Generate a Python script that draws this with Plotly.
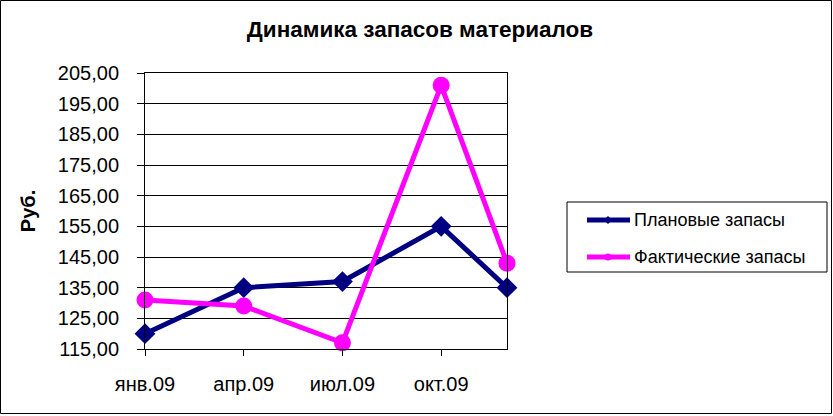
import plotly.graph_objects as go

months = ["2009-01", "2009-04", "2009-07", "2009-10", "2009-12"]
tick_months = ["2009-01", "2009-04", "2009-07", "2009-10"]
tick_labels = ["янв.09", "апр.09", "июл.09", "окт.09"]
plan = [120, 135, 137, 155, 135]
actual = [131, 129, 117, 201, 143]
y_ticks = [115, 125, 135, 145, 155, 165, 175, 185, 195, 205]
series_names = ["Плановые запасы", "Фактические запасы"]
series_colors = ["#000080", "#FF00FF"]
series_symbols = ["diamond", "circle"]

def midx(s):
    y, m = s.split("-")
    return (int(y) - 2009) * 12 + int(m) - 1

x = [midx(m) for m in months]
tx = [midx(m) for m in tick_months]

FONT = "Liberation Sans, Arial, sans-serif"

fig = go.Figure()
for vals, nm, col, sym, sz in zip([plan, actual], series_names, series_colors, series_symbols, [16, 17]):
    fig.add_trace(go.Scatter(
        x=x, y=vals, name=nm, mode="lines+markers",
        line=dict(color=col, width=5),
        marker=dict(symbol=sym, size=sz, color=col),
        cliponaxis=False, showlegend=False,
    ))

L, R, T, B = 145, 326, 73, 67
W, H = 833, 416
pw, ph = W - L - R, H - T - B

def px(xp):
    return (xp - L) / pw

def py(yp):
    return (H - B - yp) / ph

shapes = [
    dict(type="rect", xref="paper", yref="paper",
         x0=px(0.5), x1=px(831.5), y0=py(413.5), y1=py(0.5),
         line=dict(color="black", width=1), fillcolor="rgba(0,0,0,0)", layer="below"),
    dict(type="rect", xref="paper", yref="paper",
         x0=px(567), x1=px(827), y0=py(272), y1=py(202),
         line=dict(color="black", width=1), fillcolor="white"),
]
annotations = []
legend_rows = [220, 257]
for nm, col, sym, yy in zip(series_names, series_colors, series_symbols, legend_rows):
    shapes.append(dict(type="line", xref="paper", yref="paper",
                       x0=px(587), x1=px(630), y0=py(yy), y1=py(yy),
                       line=dict(color=col, width=5)))
    cx, cy = 608, yy
    if sym == "diamond":
        path = (f"M {px(cx-4)} {py(cy)} L {px(cx)} {py(cy-4)} L {px(cx+4)} {py(cy)} "
                f"L {px(cx)} {py(cy+4)} Z")
        shapes.append(dict(type="path", xref="paper", yref="paper", path=path,
                           fillcolor=col, line=dict(color=col, width=0)))
    else:
        shapes.append(dict(type="circle", xref="paper", yref="paper",
                           x0=px(cx-3.5), x1=px(cx+3.5), y0=py(cy+3.5), y1=py(cy-3.5),
                           fillcolor=col, line=dict(color=col, width=0)))
    annotations.append(dict(text=nm, xref="paper", yref="paper", x=px(632), y=py(yy),
                            xanchor="left", yanchor="middle", showarrow=False,
                            font=dict(size=18, family=FONT, color="black")))

fig.update_layout(
    width=W, height=H,
    margin=dict(l=L, r=R, t=T, b=B),
    paper_bgcolor="white", plot_bgcolor="white",
    font=dict(family=FONT, color="black"),
    title=dict(text="<b>Динамика запасов материалов</b>", x=px(420), xanchor="center",
               xref="paper", y=1 - 29 / H, yanchor="middle",
               font=dict(size=22.5, family=FONT, color="black")),
    showlegend=False,
    xaxis=dict(range=[0, 11], tickmode="array", tickvals=tx, ticktext=tick_labels,
               showgrid=False, zeroline=False, showline=True, linecolor="black", linewidth=1,
               mirror=True, ticks="outside", ticklen=6, tickcolor="black",
               tickfont=dict(size=20, family=FONT, color="black"), ticklabelstandoff=11),
    yaxis=dict(range=[115, 205], tickmode="array", tickvals=y_ticks,
               ticktext=[f"{v:.2f}".replace(".", ",") for v in y_ticks],
               showgrid=True, gridcolor="black", gridwidth=1, zeroline=False,
               showline=True, linecolor="black", linewidth=1, mirror=True,
               ticks="outside", ticklen=7, tickcolor="black",
               tickfont=dict(size=20, family=FONT, color="black"), ticklabelstandoff=14,
               title=dict(text="<b>Руб.</b>", font=dict(size=20, family=FONT, color="black"),
                          standoff=16)),
    shapes=shapes,
    annotations=annotations,
)

fig.write_html("out.html", config={"displayModeBar": False},
               post_script="document.body.style.margin='0';")
